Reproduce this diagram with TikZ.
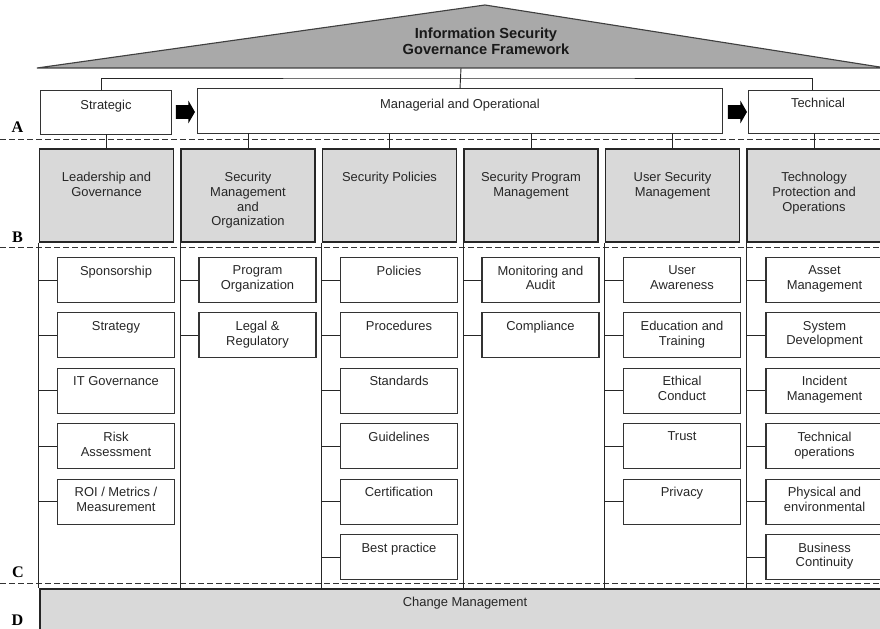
\documentclass[tikz,border=0pt]{standalone}
\usepackage{fontspec}
\setmainfont{Liberation Sans}
\newfontfamily\letterfont{Liberation Serif}
\usepackage{xcolor}
\usepackage{tikz}
\usetikzlibrary{positioning, shapes.arrows}

\definecolor{roofgray}{HTML}{A9A9A9}
\definecolor{boxgray}{HTML}{D9D9D9}

\tikzset{
  tierbox/.style={draw=black!80, line width=0.7pt, inner sep=0},
  areabox/.style={draw=black!85, fill=boxgray, line width=0.9pt, minimum width=3.35cm, minimum height=2.325cm, inner sep=0},
  itembox/.style={draw=black!80, line width=0.75pt, minimum width=2.925cm, minimum height=1.125cm, inner sep=0},
  boxtext/.style={align=center, inner sep=0, text=black!85, font=\fontsize{9.2}{10.6}\selectfont},
  titletext/.style={align=center, inner sep=0, text=black!90, font=\fontsize{10.4}{11.4}\selectfont\bfseries},
  blockarrow/.style={single arrow, fill=black, draw=none, inner xsep=0, inner ysep=0.1625cm, minimum height=0.475cm, single arrow head extend=0.115cm, single arrow tip angle=120},
  sepline/.style={dashed, dash pattern=on 0.15cm off 0.075cm, line width=0.6pt, black!80},
  link/.style={line width=0.65pt, draw=black!85},
  tierletter/.style={inner sep=0, font=\letterfont\bfseries\fontsize{11.5}{12}\selectfont}
}

\begin{document}
\begin{tikzpicture}[x=0.025cm, y=-0.025cm]
        \clip (0,0) rectangle (880,629);

        % roof
        \filldraw[fill=roofgray, draw=black!75, line width=0.8pt] (37,68) -- (485,5) -- (886,68) -- cycle;
        \node[titletext, anchor=north] (title) at (486,27.5) {Information Security\\Governance Framework};
        \coordinate (roofbase) at (461,68);
        \coordinate (hub) at (461,78);

        % tier separators
        \draw[sepline] (0,139) -- (880,139);
        \draw[sepline] (0,247) -- (880,247);
        \draw[sepline] (0,583) -- (880,583);
        \node[tierletter] (la) at (17.5,127) {A};
        \node[tierletter] (lb) at (17.5,237.5) {B};
        \node[tierletter] (lc) at (18,572) {C};
        \node[tierletter] (ld) at (17.5,620.5) {D};

        % tier A
        \node[tierbox, minimum width=3.25cm, minimum height=1.075cm] (strat) at (106,112.5) {};
        \node[tierbox, minimum width=13.1cm, minimum height=1.1cm] (mgmt) at (460,111) {};
        \node[tierbox, minimum width=3.5cm, minimum height=1.05cm] (tech) at (818,112) {};
        \node[boxtext, below=0.225cm of strat.north] (strat-t) {Strategic};
        \node[boxtext, below=0.25cm of mgmt.north] (mgmt-t) {Managerial and Operational};
        \node[boxtext, below=0.19cm of tech.north] (tech-t) {Technical};
        \node[blockarrow] (arr1) at (183.5,112) {};
        \node[blockarrow] (arr2) at (735.5,112) {};

        \draw[link] (roofbase) -- (mgmt.north);
        \draw[link] ([xshift=-0.125cm]strat.north) |- (hub) -| ([xshift=-0.15cm]tech.north);

        % tier B
        \node[areabox] (lead) at (106.5,195.5) {};
        \node[areabox] (secmgmt) at (248,195.5) {};
        \node[areabox] (policy) at (389.5,195.5) {};
        \node[areabox] (program) at (531,195.5) {};
        \node[areabox] (usersec) at (672.5,195.5) {};
        \node[areabox] (techprot) at (814,195.5) {};
        \node[boxtext, below=0.58cm of lead.north] (lead-t) {Leadership and\\Governance};
        \node[boxtext, below=0.58cm of secmgmt.north] (secmgmt-t) {Security\\Management\\and\\Organization};
        \node[boxtext, below=0.58cm of policy.north] (policy-t) {Security Policies};
        \node[boxtext, below=0.58cm of program.north] (program-t) {Security Program\\Management};
        \node[boxtext, below=0.58cm of usersec.north] (usersec-t) {User Security\\Management};
        \node[boxtext, below=0.58cm of techprot.north] (techprot-t) {Technology\\Protection and\\Operations};

        \draw[link] (lead.north) -- (lead.north |- strat.south);
        \foreach \b in {secmgmt, policy, program, usersec}
            \draw[link] (\b.north) -- (\b.north |- mgmt.south);
        \draw[link] (techprot.north) -- (techprot.north |- tech.south);

        % tier D
        \node[areabox, minimum width=21.25cm, minimum height=1.2cm] (chg) at (465,613) {};
        \node[boxtext, below=0.2cm of chg.north] (chg-t) {Change Management};

        \foreach \b in {lead, secmgmt, policy, program, usersec, techprot}
            \draw[link] (\b.south west) -- (\b.south west |- chg.north);

        % tier C
        \foreach \t [count=\i] in {Sponsorship, Strategy, IT Governance, Risk\\Assessment, ROI / Metrics /\\Measurement} {
            \node[itembox] (lead\i) at (116,224.6+55.4*\i) {};
            \node[boxtext, below=0.21cm of lead\i.north] (lead\i-t) {\t};
            \draw[link] (lead\i.west) -- (lead\i.west -| lead.west);
        }
        \foreach \t [count=\i] in {Program\\Organization, Legal \&\\Regulatory} {
            \node[itembox] (secmgmt\i) at (257.5,224.6+55.4*\i) {};
            \node[boxtext, below=0.21cm of secmgmt\i.north] (secmgmt\i-t) {\t};
            \draw[link] (secmgmt\i.west) -- (secmgmt\i.west -| secmgmt.west);
        }
        \foreach \t [count=\i] in {Policies, Procedures, Standards, Guidelines, Certification, Best practice} {
            \node[itembox] (policy\i) at (399,224.6+55.4*\i) {};
            \node[boxtext, below=0.21cm of policy\i.north] (policy\i-t) {\t};
            \draw[link] (policy\i.west) -- (policy\i.west -| policy.west);
        }
        \foreach \t [count=\i] in {Monitoring and\\Audit, Compliance} {
            \node[itembox] (program\i) at (540.5,224.6+55.4*\i) {};
            \node[boxtext, below=0.21cm of program\i.north] (program\i-t) {\t};
            \draw[link] (program\i.west) -- (program\i.west -| program.west);
        }
        \foreach \t [count=\i] in {User\\Awareness, Education and\\Training, Ethical\\Conduct, Trust, Privacy} {
            \node[itembox] (usersec\i) at (682,224.6+55.4*\i) {};
            \node[boxtext, below=0.21cm of usersec\i.north] (usersec\i-t) {\t};
            \draw[link] (usersec\i.west) -- (usersec\i.west -| usersec.west);
        }
        \foreach \t [count=\i] in {Asset\\Management, System\\Development, Incident\\Management, Technical\\operations, Physical and\\environmental, Business\\Continuity} {
            \node[itembox] (techprot\i) at (824.5,224.6+55.4*\i) {};
            \node[boxtext, below=0.21cm of techprot\i.north] (techprot\i-t) {\t};
            \draw[link] (techprot\i.west) -- (techprot\i.west -| techprot.west);
        }
    \end{tikzpicture}
\end{document}
